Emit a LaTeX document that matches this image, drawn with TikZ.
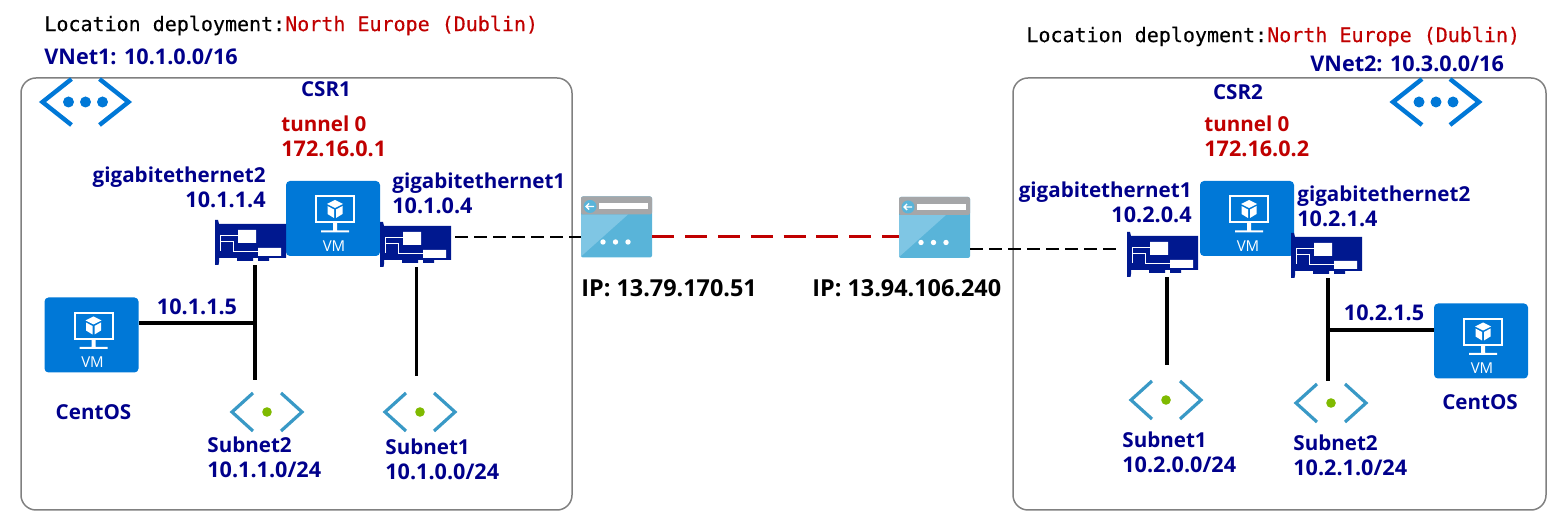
\documentclass[tikz,border=0pt]{standalone}
\usepackage{fontspec}
\setmainfont{Open Sans}
\newfontfamily\monofam[FakeBold=.3]{DejaVu Sans Mono}
\newcommand\namefont{\fontsize{10.3}{12.75}\selectfont}
\definecolor{navytext}{HTML}{00008B}
\definecolor{redtext}{HTML}{C00000}
\definecolor{azure}{HTML}{0078D7}
\definecolor{nicblue}{HTML}{00188F}
\definecolor{gwbody}{HTML}{59B4D9}
\definecolor{gwlight}{HTML}{7FC6E4}
\definecolor{gwgrey}{HTML}{A5A6A8}
\definecolor{subnetblue}{HTML}{3999C6}
\definecolor{subnetgreen}{HTML}{7FBA00}
\tikzset{
  netlabel/.style={font=\fontsize{10.8}{12.75}\selectfont\bfseries,text=navytext,inner sep=0pt,align=left},
  tunlabel/.style={netlabel,text=redtext},
  iplabel/.style={netlabel,text=black,font=\fontsize{11.7}{14}\selectfont\bfseries},
  monolabel/.style={font=\fontsize{10}{12}\selectfont\monofam,inner sep=0pt},
  vnetbox/.style={draw=black!50,line width=.75pt,rounded corners=7.5pt},
  wire/.style={line width=1.6pt},
  tunnelwire/.style={redtext,line width=1.5pt,dash pattern=on 11pt off 5.4pt},
  pubwire/.style={line width=.6pt,dash pattern=on 6.3pt off 3.2pt},
  vmbox/.style={minimum width=47pt,minimum height=37.5pt,inner sep=0pt},
  nicbox/.style={minimum width=35.5pt,minimum height=22.5pt,inner sep=0pt},
  gwbox/.style={minimum width=35.5pt,minimum height=30.5pt,inner sep=0pt},
  pics/vmicon/.style={code={
    \begin{scope}[shift={(-47,-37.5)}]
      \fill[azure,rounded corners=2pt] (0,0) rectangle (94,75);
      \draw[white,line width=1pt] (30,15.5) rectangle (68,41.5);
      \fill[white] (47,42) rectangle (51,50) (35,49.5) rectangle (63,51.5);
      \fill[white] (49,19) -- (57,23) -- (49,27) -- (41,23) -- cycle;
      \fill[white] (41.5,25) -- (48,28.5) -- (48,37) -- (41.5,33) -- cycle;
      \fill[white] (56.5,25) -- (50,28.5) -- (50,37) -- (56.5,33) -- cycle;
      \node[text=white,inner sep=0pt,font=\fontsize{7.5}{8}\selectfont] (-text) at (48,65) {VM};
    \end{scope}}},
  pics/nicicon/.style={code={
    \begin{scope}[shift={(-35.5,-22.5)}]
      \fill[nicblue] (0,0) -- (3,0) -- (4,4) -- (71,4) -- (71,38) -- (54,38) -- (54,41) -- (43,41) -- (43,38) -- (38,38) -- (38,41) -- (22,41) -- (22,38) -- (4,38) -- (4,42) -- (3.5,45) -- (0,45) -- cycle;
      \fill[white] (23,10) rectangle (41,23) (43,28) rectangle (66,36);
      \draw[white,line width=.5pt] (5,16) -- (23,16) (5,22) -- (18,22) -- (18,32) -- (43,32) (5,15) -- (5,31);
    \end{scope}}},
  pics/gwicon/.style={code={
    \begin{scope}[shift={(-35.5,-30.5)}]
      \fill[gwbody,rounded corners=1pt] (0,0) rectangle (71,61);
      \fill[gwlight] (0,18) -- (47,18) -- (0,60) -- cycle;
      \fill[gwgrey,rounded corners=1pt] (0,18) -- (0,0) -- (71,0) -- (71,18) -- cycle;
      \fill[white] (18,7) rectangle (67,13);
      \fill[gwbody] (9,10) circle (6.5);
      \draw[white,line width=.7pt] (5,10) -- (13,10) (8,7) -- (5,10) -- (8,13);
      \foreach \dotx in {22,34.5,47} \fill[white] (\dotx,45.5) circle (2.7);
    \end{scope}}},
  pics/vneticon/.style={code={
    \draw[azure,line width=2.2pt] (-14,-23) -- (-43,0) -- (-14,23) (14,-23) -- (43,0) -- (14,23);
    \foreach \dotx in {-17,0,17} \fill[azure] (\dotx,0) circle (5.5);
  }},
  pics/subneticon/.style={code={
    \draw[subnetblue,line width=1.6pt] (-14,-19) -- (-35,0) -- (-14,19) (14,-19) -- (35,0) -- (14,19);
    \fill[subnetgreen] (0,0) circle (4.8);
  }},
}
\begin{document}
\begin{tikzpicture}[x=.5pt,y=-.5pt]
\path[use as bounding box] (0,0) rectangle (1553,517);
% boxes
\draw[vnetbox] (21,78) rectangle (572,510);
\draw[vnetbox] (1013,78) rectangle (1546,510);
% left side
\node[monolabel,anchor=west] (locA) at (44,25.5) {Location deployment:\textcolor{redtext}{North Europe (Dublin)}};
\node[netlabel,anchor=west] (vnetA) at (44,57) {VNet1: 10.1.0.0/16};
\pic at (85.5,102) {vneticon};
\node[netlabel] (csrA) at (326,89) {{\namefont CSR1}};
\node[tunlabel,anchor=north west] (tunA) at (281,115) {{\namefont tunnel 0}\\172.16.0.1};
\node[netlabel,anchor=north east,align=right] (gigA2) at (266,166) {{\namefont gigabitethernet2}\\10.1.1.4};
\node[netlabel,anchor=north west] (gigA1) at (392,172) {{\namefont gigabitethernet1}\\10.1.0.4};
\node[vmbox] (vmA) at (333,218.5) {};
\pic (vmAicon) at (vmA) {vmicon};
\node[nicbox] (nicA2) at (250.5,242.5) {};
\pic at (nicA2) {nicicon};
\node[nicbox] (nicA1) at (415.5,244.5) {};
\pic at (nicA1) {nicicon};
\node[vmbox] (centA) at (91.5,335) {};
\pic (centAicon) at (centA) {vmicon};
\node[netlabel] (ipA) at (197,307) {10.1.1.5};
\node[netlabel] (centlabelA) at (93.5,412) {{\namefont CentOS}};
\pic at (267,412) {subneticon};
\pic at (420,412) {subneticon};
\node[netlabel,anchor=north west] (subA2) at (207,436) {{\namefont Subnet2}\\10.1.1.0/24};
\node[netlabel,anchor=north west] (subA1) at (385,438) {{\namefont Subnet1}\\10.1.0.0/24};
\coordinate (juncA) at (255,323);
\coordinate (endA2) at (255,380);
\coordinate (endA1) at (416.5,376);
\draw[wire] (nicA2.south -| juncA) -- (endA2);
\draw[wire] (juncA -| centA.east) -- (juncA);
\draw[wire] (nicA1.south -| endA1) -- (endA1);
% gateways
\node[gwbox] (gwA) at (616.5,227) {};
\pic at (gwA) {gwicon};
\node[gwbox] (gwB) at (934.5,227.5) {};
\pic at (gwB) {gwicon};
\node[iplabel,anchor=west] (ipgwA) at (581,288) {IP: 13.79.170.51};
\node[iplabel,anchor=west] (ipgwB) at (812,288) {IP: 13.94.106.240};
\coordinate (pubA) at (455,237);
\coordinate (pubB) at (1122,249);
\draw[pubwire] (pubA) -- (pubA -| gwA.west);
\draw[tunnelwire] (gwA.east |- pubA) -- (gwB.west |- pubA);
\draw[pubwire] (gwB.east |- pubB) -- (pubB);
% right side
\node[monolabel,anchor=west] (locB) at (1026,36.5) {Location deployment:\textcolor{redtext}{North Europe (Dublin)}};
\node[netlabel,anchor=west] (vnetB) at (1310,64) {VNet2: 10.3.0.0/16};
\pic at (1436,102) {vneticon};
\node[netlabel] (csrB) at (1238,92) {{\namefont CSR2}};
\node[tunlabel,anchor=north west] (tunB) at (1204,115) {{\namefont tunnel 0}\\172.16.0.2};
\node[netlabel,anchor=north east,align=right] (gigB1) at (1192,181) {{\namefont gigabitethernet1}\\10.2.0.4};
\node[netlabel,anchor=north west] (gigB2) at (1297,185) {{\namefont gigabitethernet2}\\10.2.1.4};
\node[vmbox] (vmB) at (1247,218.5) {};
\pic (vmBicon) at (vmB) {vmicon};
\node[nicbox] (nicB1) at (1162.5,254.5) {};
\pic at (nicB1) {nicicon};
\node[nicbox] (nicB2) at (1326.5,255.5) {};
\pic at (nicB2) {nicicon};
\node[vmbox] (centB) at (1481,341) {};
\pic (centBicon) at (centB) {vmicon};
\node[netlabel] (ipB) at (1384,313) {10.2.1.5};
\node[netlabel] (centlabelB) at (1480,402) {{\namefont CentOS}};
\pic at (1166,400) {subneticon};
\pic at (1331,403) {subneticon};
\node[netlabel,anchor=north west] (subB1) at (1122,431) {{\namefont Subnet1}\\10.2.0.0/24};
\node[netlabel,anchor=north west] (subB2) at (1293,434) {{\namefont Subnet2}\\10.2.1.0/24};
\coordinate (juncB) at (1328,330);
\coordinate (endB2) at (1328,381);
\coordinate (endB1) at (1167,365);
\draw[wire] (nicB1.south -| endB1) -- (endB1);
\draw[wire] (nicB2.south -| juncB) -- (endB2);
\draw[wire] (juncB) -- (juncB -| centB.west);
\end{tikzpicture}
\end{document}
